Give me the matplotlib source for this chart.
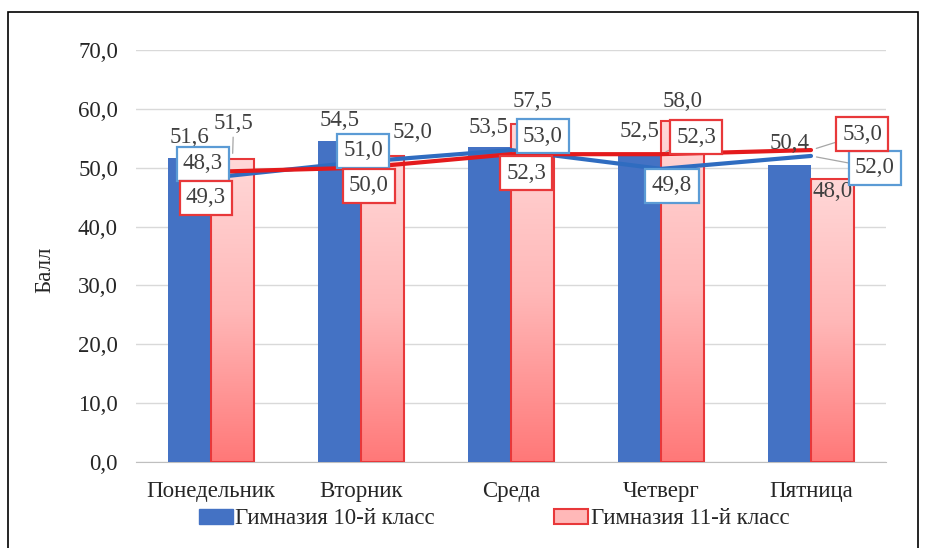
import numpy as np
import matplotlib.pyplot as plt
from matplotlib.patches import Rectangle, Patch
from matplotlib.colors import LinearSegmentedColormap

plt.rcParams['font.family'] = ['Liberation Serif', 'DejaVu Serif']

days = ['Понедельник', 'Вторник', 'Среда', 'Четверг', 'Пятница']
bars_10 = [51.6, 54.5, 53.5, 52.5, 50.4]
bars_11 = [51.5, 52.0, 57.5, 58.0, 48.0]
line_10 = [48.3, 51.0, 53.0, 49.8, 52.0]
line_11 = [49.3, 50.0, 52.3, 52.3, 53.0]
yticks = np.arange(0, 71, 10)
series_names = ['Гимназия 10-й класс', 'Гимназия 11-й класс']

# label offsets from their anchors, in pixels (dx, dy), and leader-line flags
bar10_off = [(0, 21), (0, 21), (-1, 20), (0, 22), (0, 22)]
bar11_off = [(1, 35), (30, 23), (0, 22), (0, 19), (0, -12)]
line10_off = [(-8, 14), (2, 11), (32, 14), (11, -17), (64, -12)]
line11_off = [(-5, -26), (8, -18), (15, -19), (35, 17), (51, 16)]
bar11_lead = [True, False, False, False, False]
line10_lead = [False, False, False, False, True]
line11_lead = [False, False, False, True, True]

BLUE = '#4472C4'
BLUE_LINE = '#2F6CC0'
BLUE_BOX = '#5B9BD5'
RED = '#E41A1C'
RED_EDGE = '#E8383A'
TXT = '#404040'
FS = 16.5


def fmt(v):
    return f'{v:.1f}'.replace('.', ',')


fig = plt.figure(figsize=(9.27, 5.48), dpi=100)
ax = fig.add_axes([136 / 927, 1 - 462 / 548, 750 / 927, 412 / 548])

x = np.arange(len(days))
w = 0.287
b10 = ax.bar(x - w / 2, bars_10, w, color=BLUE, zorder=3)
b11 = ax.bar(x + w / 2, bars_11, w, facecolor='none', edgecolor=RED_EDGE,
             linewidth=1.5, zorder=3)

# vertical pink-to-red gradient inside the 11th grade bars
grad_cmap = LinearSegmentedColormap.from_list('pinkred', ['#FF7878', '#FFB8B8', '#FFD8D8'])
grad = np.linspace(0, 1, 256).reshape(-1, 1)
for rect in b11:
    x0, h = rect.get_x(), rect.get_height()
    im = ax.imshow(grad, extent=[x0, x0 + rect.get_width(), 0, h], origin='lower',
                   aspect='auto', cmap=grad_cmap, zorder=2.8)
    im.set_clip_path(rect)

ax.plot(x, line_10, color=BLUE_LINE, lw=3, zorder=4, solid_capstyle='round')
ax.plot(x, line_11, color=RED, lw=3, zorder=4.1, solid_capstyle='round')

ax.set_xlim(-0.5, len(days) - 0.5)
ax.set_ylim(0, 70)
ax.set_yticks(yticks)
ax.set_yticklabels([fmt(v) for v in yticks])
ax.set_xticks(x)
ax.set_xticklabels(days)
ax.tick_params(length=0, labelsize=FS, colors='#262626', pad=14)
ax.tick_params(axis='y', pad=13)
ax.grid(axis='y', color='#D9D9D9', lw=1)
ax.set_axisbelow(True)
for s in ['top', 'right', 'left']:
    ax.spines[s].set_visible(False)
ax.spines['bottom'].set_color('#BFBFBF')

lead = dict(arrowstyle='-', color='#A6A6A6', lw=0.9, shrinkA=0, shrinkB=4)


def put(val, xy, off, box=None, leader=False):
    kw = {}
    if box:
        kw['bbox'] = dict(boxstyle='square,pad=0.28', fc='white', ec=box, lw=1.6)
    if leader:
        kw['arrowprops'] = lead
    ax.annotate(fmt(val), xy=xy, xytext=off, textcoords='offset pixels',
                ha='center', va='center', fontsize=FS, color=TXT, zorder=6, **kw)


for i in x:
    put(bars_10[i], (i - w / 2, bars_10[i]), bar10_off[i])
    put(bars_11[i], (i + w / 2, bars_11[i]), bar11_off[i], leader=bar11_lead[i])
    put(line_10[i], (i, line_10[i]), line10_off[i], box=BLUE_BOX, leader=line10_lead[i])
    put(line_11[i], (i, line_11[i]), line11_off[i], box=RED_EDGE, leader=line11_lead[i])

fig.text(45 / 927, 1 - 270 / 548, 'Балл', rotation=90, ha='center', va='center',
         fontsize=FS, color='#262626')

handles = [Patch(facecolor=BLUE, edgecolor=BLUE),
           Patch(facecolor='#FFB8B8', edgecolor=RED_EDGE, lw=1.5)]
fig.legend(handles, series_names, loc='center', bbox_to_anchor=(494 / 927, 1 - 519 / 548),
           ncol=2, frameon=False, fontsize=FS, handlelength=1.5, handleheight=0.6,
           handletextpad=0.1, columnspacing=5.2, labelcolor='#262626')

fig.add_artist(Rectangle((8 / 927, -0.05), 910 / 927, 1 - 12 / 548 + 0.05,
                         transform=fig.transFigure, fill=False, ec='black', lw=1.2))

fig.savefig('out.png', dpi=100)
